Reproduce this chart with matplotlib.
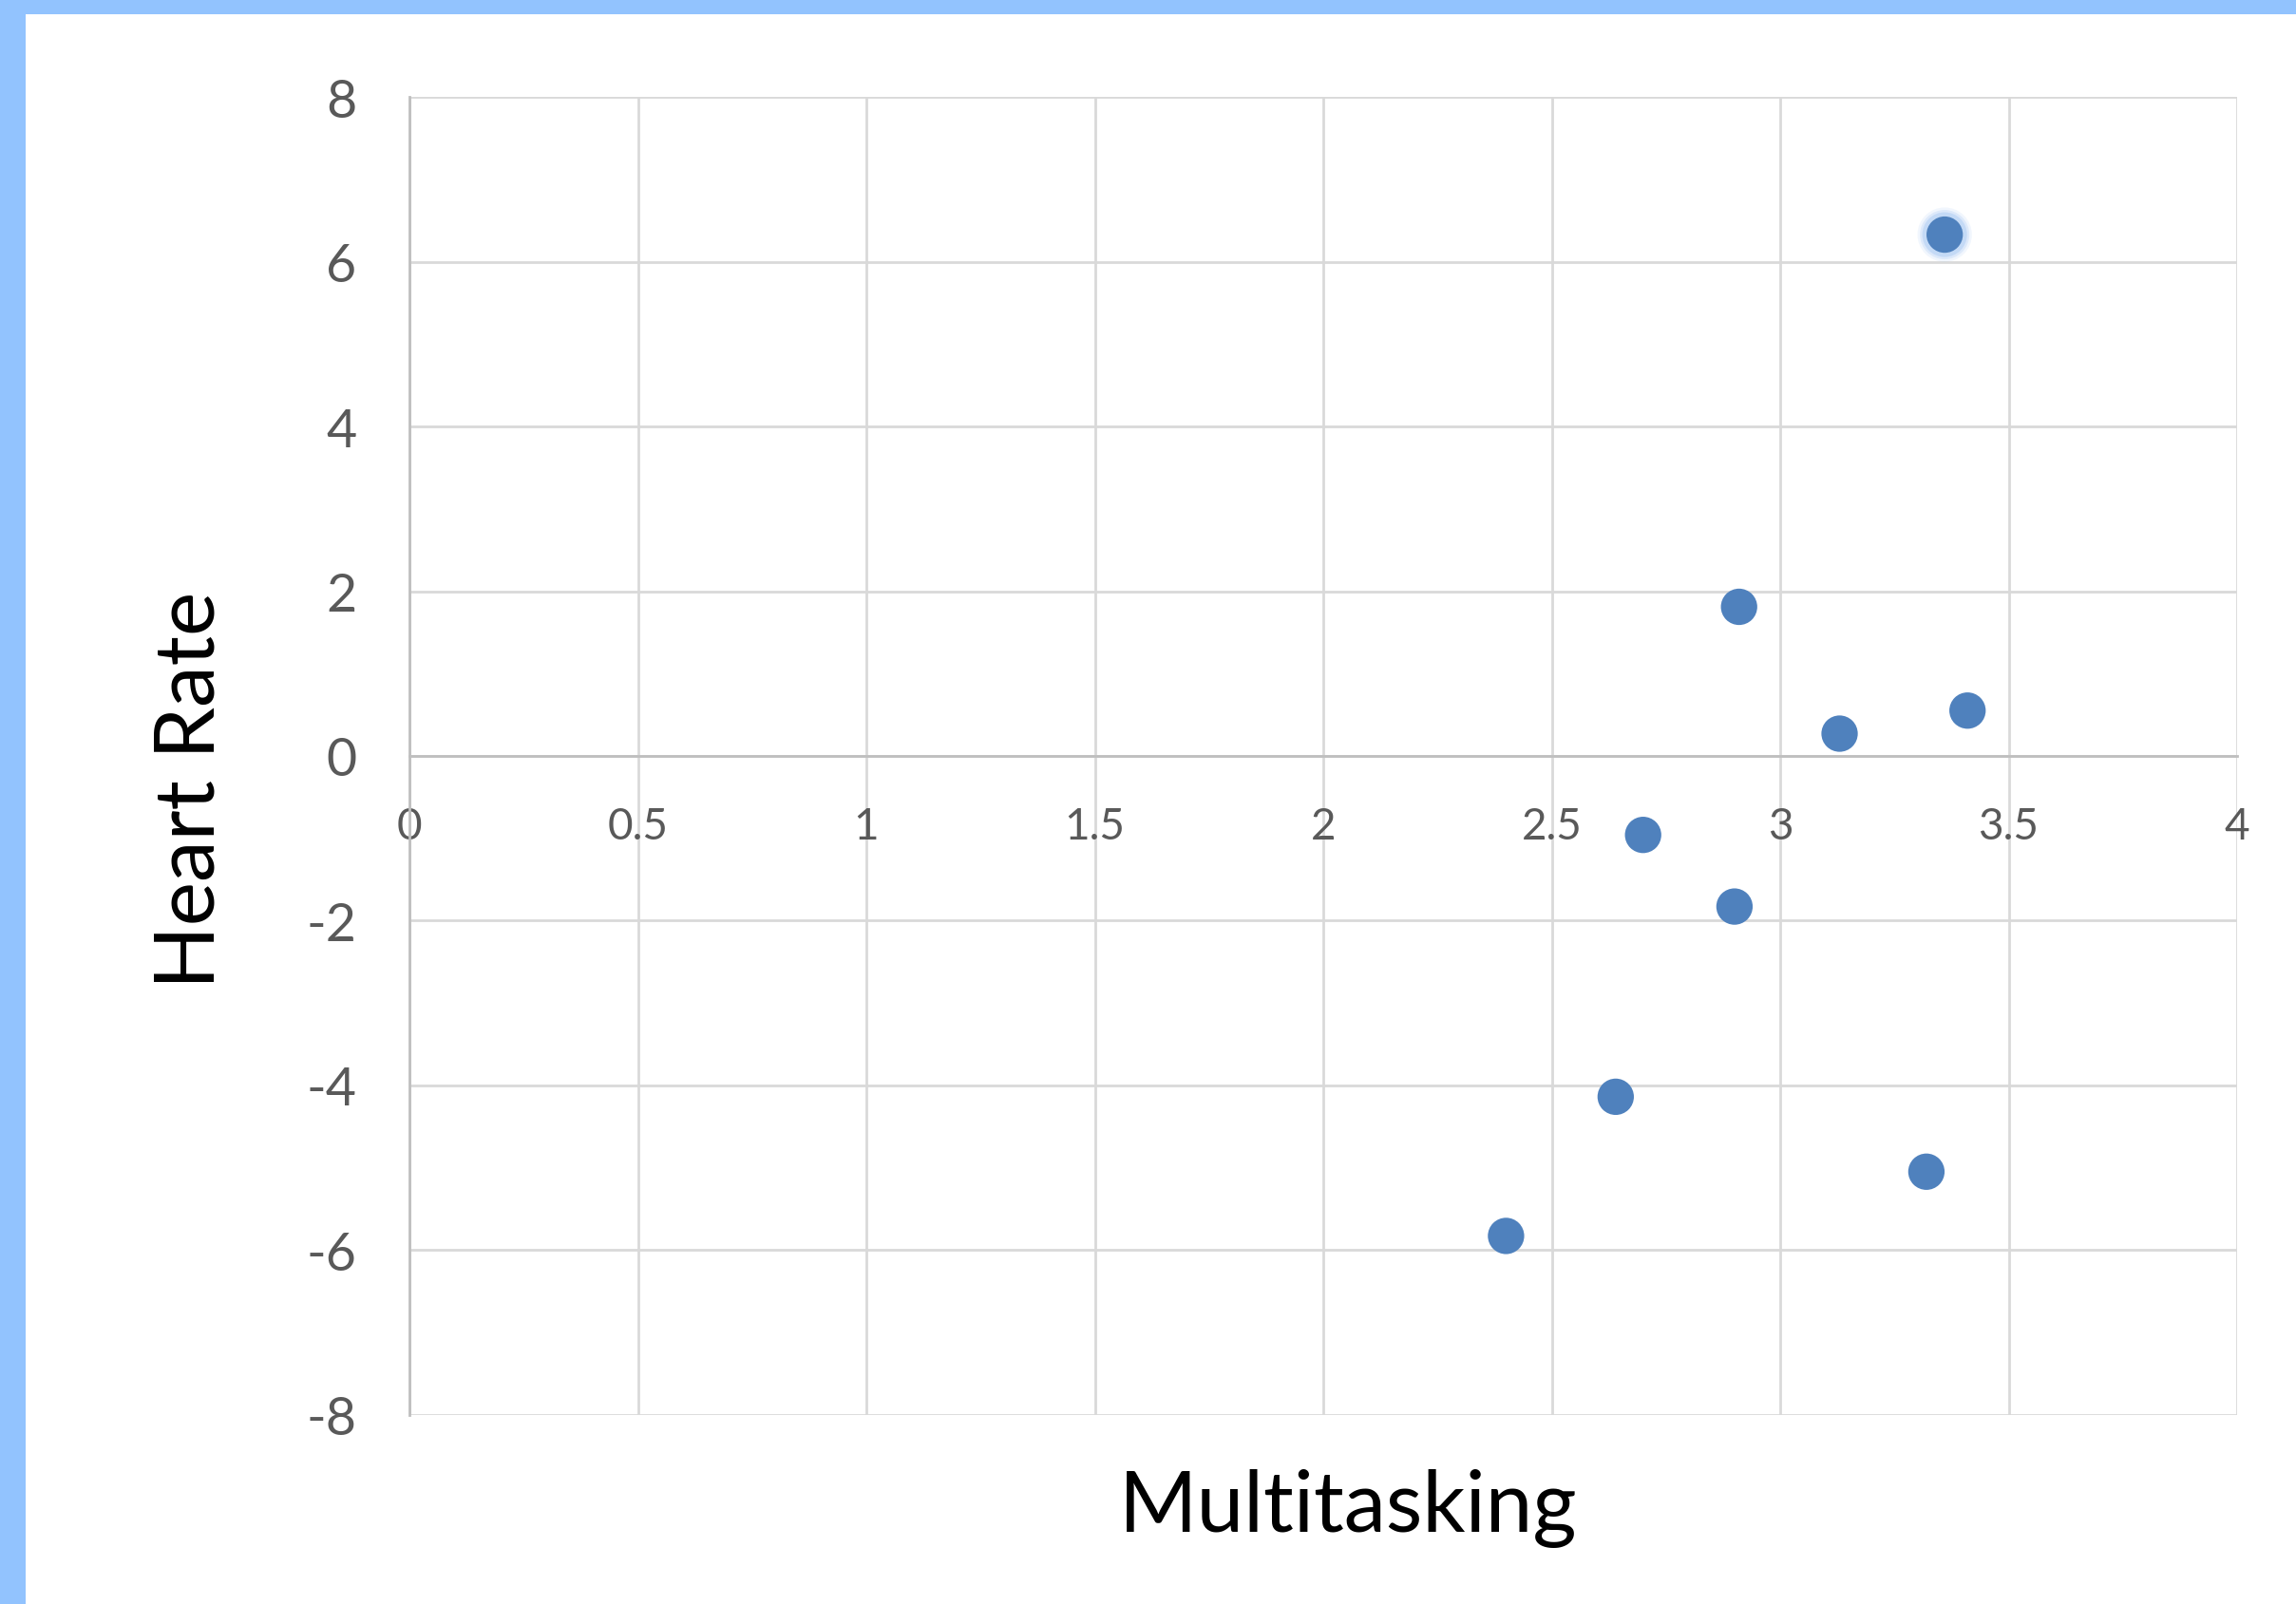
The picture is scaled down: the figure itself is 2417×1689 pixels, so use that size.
import matplotlib.pyplot as plt
from matplotlib.patches import Rectangle

# Valores
multitasking = [3.36, 2.91, 3.13, 3.41, 2.70, 2.90, 2.64, 3.32, 2.40]
heart_rate = [6.33, 1.81, 0.27, 0.55, -0.96, -1.83, -4.14, -5.05, -5.83]
x_ticks = [0, 0.5, 1, 1.5, 2, 2.5, 3, 3.5, 4]
y_ticks = [-8, -6, -4, -2, 0, 2, 4, 6, 8]
x_tick_labels = ['0', '0.5', '1', '1.5', '2', '2.5', '3', '3.5', '4']
highlight = 0  # punto seleccionado (con brillo)

plt.rcParams['font.family'] = ['Lato', 'DejaVu Sans']
plt.rcParams['axes.unicode_minus'] = False

fig = plt.figure(figsize=(24.17, 16.90), dpi=100)
fig.patch.set_facecolor('white')

# Borde azul arriba y a la izquierda
border = '#92C3FE'
fig.add_artist(Rectangle((0, 1 - 16 / 1690), 1, 16 / 1690, transform=fig.transFigure,
                         facecolor=border, edgecolor='none', zorder=0))
fig.add_artist(Rectangle((0, 0), 27 / 2417, 1, transform=fig.transFigure,
                         facecolor=border, edgecolor='none', zorder=0))

ax = fig.add_axes([431 / 2417, 0.118, (2355 - 431) / 2417, 0.9389 - 0.118])
ax.set_xlim(0, 4)
ax.set_ylim(-8, 8)
ax.set_xticks(x_ticks)
ax.set_xticklabels(x_tick_labels)
ax.set_yticks(y_ticks)

ax.grid(True, color='#D9D9D9', linewidth=2, zorder=0)
ax.set_axisbelow(True)

for side in ['top', 'right']:
    ax.spines[side].set_visible(False)
ax.spines['left'].set_color('#BFBFBF')
ax.spines['left'].set_linewidth(2)
ax.spines['bottom'].set_position(('data', 0))
ax.spines['bottom'].set_color('#BFBFBF')
ax.spines['bottom'].set_linewidth(2)

ax.tick_params(axis='x', length=0, pad=38, labelsize=33, labelcolor='#595959')
ax.tick_params(axis='y', length=0, pad=40, labelsize=40, labelcolor='#595959')

# Brillo alrededor del punto seleccionado
hx, hy = multitasking[highlight], heart_rate[highlight]
for s, a in [(1700, 0.12), (1400, 0.2), (1150, 0.3)]:
    ax.scatter([hx], [hy], s=s, color='#8DB8F0', alpha=a, edgecolors='none', zorder=2)

ax.scatter(multitasking, heart_rate, s=760, color='#4F81BD', edgecolors='none', zorder=3)

fig.text(0.587, 0.060, 'Multitasking', fontsize=64, color='black', ha='center', va='center')
fig.text(0.083, 0.508, 'Heart Rate', fontsize=63, color='black', ha='center', va='center',
         rotation=90)

fig.savefig('out.png', dpi=100)
